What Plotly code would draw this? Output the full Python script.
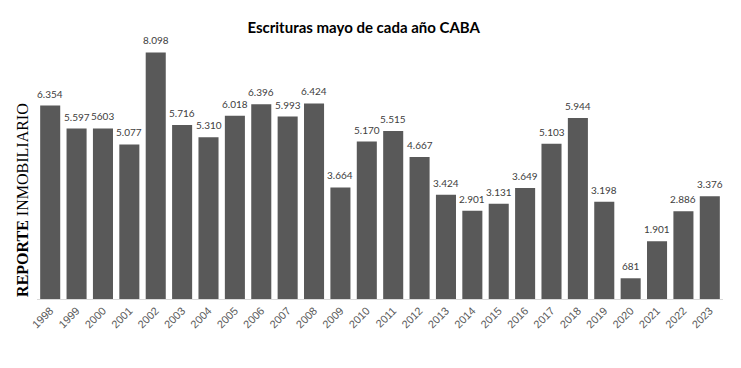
import plotly.graph_objects as go

years = [str(y) for y in range(1998, 2024)]
values = [6354, 5597, 5603, 5077, 8098, 5716, 5310, 6018, 6396, 5993, 6424, 3664, 5170,
          5515, 4667, 3424, 2901, 3131, 3649, 5103, 5944, 3198, 681, 1901, 2886, 3376]
labels = ["6.354", "5.597", "5603", "5.077", "8.098", "5.716", "5.310", "6.018", "6.396",
          "5.993", "6.424", "3.664", "5.170", "5.515", "4.667", "3.424", "2.901", "3.131",
          "3.649", "5.103", "5.944", "3.198", "681", "1.901", "2.886", "3.376"]

fig = go.Figure(go.Bar(
    x=years, y=values,
    marker=dict(color="#595959", line=dict(width=0)),
    hoverinfo="x+y",
))

value_labels = [dict(x=i, y=v, text=lab, xref="x", yref="y", showarrow=False,
                     yanchor="bottom", xanchor="center", yshift=4,
                     font=dict(family="Lato, Carlito, sans-serif", size=10, color="#404040"))
                for i, (v, lab) in enumerate(zip(values, labels))]

fig.update_layout(
    width=741, height=368,
    margin=dict(l=29, r=26, t=17, b=77, autoexpand=False),
    paper_bgcolor="white", plot_bgcolor="white",
    bargap=0.24,
    showlegend=False,
    title=dict(text="<b>Escrituras mayo de cada año CABA</b>", x=0.480, xanchor="center",
               y=1 - 20 / 368, yanchor="middle", yref="container",
               font=dict(family="Lato, sans-serif", size=15, color="#000000")),
    xaxis=dict(type="category", range=[-0.5, len(years) - 0.5], tickangle=-45,
               automargin=False, showgrid=False, showline=True,
               linecolor="#d9d9d9", linewidth=1, ticks="",
               tickfont=dict(family="Liberation Sans, Arial, sans-serif", size=11, color="#595959")),
    yaxis=dict(range=[0, 9000], visible=False, showgrid=False),
    annotations=value_labels + [
        dict(text="<b>REPORTE</b> INMOBILIARIO", xref="paper", yref="paper",
             x=-0.022, y=0.0, xanchor="center", yanchor="bottom", textangle=-90,
             showarrow=False,
             font=dict(family="Liberation Serif, Times New Roman, serif", size=16,
                       color="#000000"))],
)

fig.write_html("out.html")
